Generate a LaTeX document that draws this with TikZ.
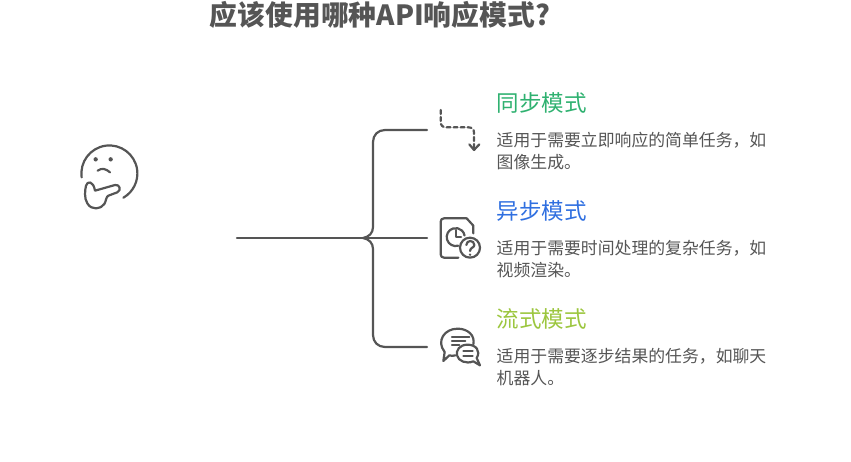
\documentclass[tikz,border=0pt]{standalone}
\usepackage{fontspec}
\setmainfont{Noto Sans CJK SC}
\definecolor{inkgray}{HTML}{555555}
\definecolor{syncgreen}{HTML}{2FB170}
\definecolor{asyncblue}{HTML}{2F6FE0}
\definecolor{streamlime}{HTML}{9CC63F}
\tikzset{
  link/.style={draw=inkgray, line width=2.2pt, line cap=round},
  glyph/.style={draw=inkgray, line width=2.2pt, line cap=round, line join=round},
  heading/.style={anchor=west, inner sep=0pt, font=\fontsize{22.5}{27}\selectfont},
  blurb/.style={anchor=north west, inner sep=0pt, align=left, text=inkgray, font=\fontsize{16.85}{22}\selectfont},
}
\begin{document}
\begin{tikzpicture}[x=1pt, y=-1pt]
\useasboundingbox (0,0) rectangle (851,461);

\node (title) [anchor=center, inner sep=0pt, text=inkgray, font=\fontsize{27.8}{32}\selectfont\bfseries] at (380,15) {应该使用哪种API响应模式?};

% three answers
\node (synchead) [heading, text=syncgreen] at (496.5,103) {同步模式};
\node (synctext) [blurb] at (496.5,132.2) {适用于需要立即响应的简单任务，如\\图像生成。};
\node (asynchead) [heading, text=asyncblue] at (496.5,211) {异步模式};
\node (asynctext) [blurb] at (496.5,240.2) {适用于需要时间处理的复杂任务，如\\视频渲染。};
\node (streamhead) [heading, text=streamlime] at (496.5,319) {流式模式};
\node (streamtext) [blurb] at (496.5,348.2) {适用于需要逐步结果的任务，如聊天\\机器人。};

% bracket
\coordinate (root) at (237,238);
\coordinate (hub) at (363,238);
\coordinate (syncend) at (427,130);
\coordinate (asyncend) at (427,238);
\coordinate (streamend) at (427,347);
\draw [link] (root) -- (asyncend);
\draw [link] (hub) .. controls (369,237) and (373,233) .. (373,227) -- (373,142) .. controls (373,135) and (378,130) .. (385,130) -- (syncend);
\draw [link] (hub) .. controls (369,239) and (373,243) .. (373,249) -- (373,335) .. controls (373,342) and (378,347) .. (385,347) -- (streamend);

% thinking face
\begin{scope}[shift={(60,120)}, scale=1/3]
\draw [glyph] (65,172) arc [start angle=172, end angle=420, radius=84];
\fill [inkgray] (107,118) circle [radius=6.5] (152,118) circle [radius=6.5];
\draw [glyph] (113,152) .. controls (125,143) and (138,146) .. (150,157);
\draw [glyph] (105,212) -- (165,195) .. controls (178,192) and (186,210) .. (172,217) -- (145,227) .. controls (138,230) and (138,245) .. (133,252) .. controls (122,268) and (95,272) .. (82,250) .. controls (72,235) and (75,210) .. (78,197) .. controls (82,182) and (100,182) .. (105,212);
\end{scope}

% dashed arrow
\begin{scope}[shift={(420,100)}, scale=1/3]
\draw [glyph, dash pattern=on 4pt off 3pt] (62,30) -- (62,65) .. controls (62,76) and (68,82) .. (78,82) -- (145,82) .. controls (156,82) and (162,88) .. (162,98) -- (162,148);
\draw [glyph] (148,133) -- (162,150) -- (178,133);
\end{scope}

% document with clock
\begin{scope}[shift={(425,205)}, scale=1/3]
\draw [glyph] (100,158) -- (57,158) .. controls (51,158) and (47,154) .. (47,148) -- (47,50) .. controls (47,44) and (51,40) .. (57,40) -- (125,40) -- (145,62) -- (145,85);
\draw [glyph] (100,122) arc [start angle=73, end angle=350, radius=27];
\draw [glyph] (92,75) -- (92,95) -- (108,95);
\draw [glyph] (135,128) circle [radius=30];
\draw [glyph] (124,120) .. controls (124,104) and (148,104) .. (148,120) .. controls (148,128) and (135,128) .. (135,138);
\fill [inkgray] (135,149) circle [radius=4];
\end{scope}

% speech bubbles
\begin{scope}[shift={(426,316)}, scale=1/3]
\draw [glyph] (88,118) .. controls (82,120) and (76,120) .. (70,118) -- (52,135) -- (56,108) .. controls (30,75) and (55,38) .. (95,38) .. controls (125,38) and (148,58) .. (142,85);
\draw [glyph] (125,86) .. controls (100,86) and (90,103) .. (93,118) .. controls (97,135) and (120,145) .. (142,136) -- (162,148) -- (152,126) .. controls (165,105) and (150,86) .. (125,86) -- cycle;
\draw [glyph] (78,62) -- (130,62) (78,75) -- (118,75) (78,88) -- (100,88);
\draw [glyph] (112,105) -- (140,105) (112,120) -- (140,120);
\end{scope}
\end{tikzpicture}
\end{document}
